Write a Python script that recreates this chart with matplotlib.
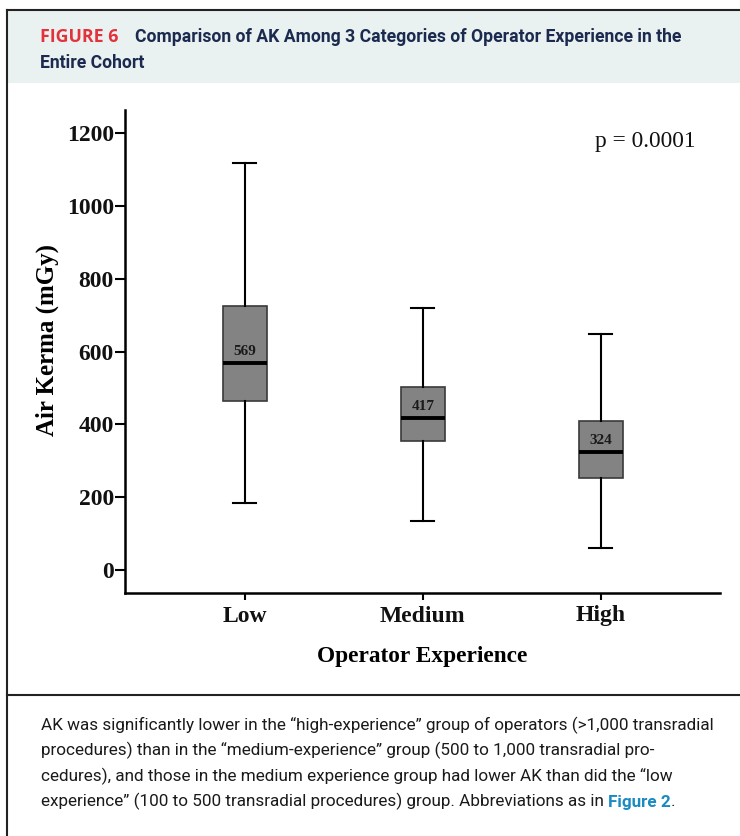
import matplotlib
matplotlib.use("Agg")
import matplotlib.pyplot as plt
from matplotlib.patches import Rectangle
from matplotlib.lines import Line2D

categories = ["Low", "Medium", "High"]
whisker_low = [184, 135, 60]
q1 = [464, 354, 253]
median = [569, 417, 324]
q3 = [725, 503, 409]
whisker_high = [1118, 720, 648]
yticks = [0, 200, 400, 600, 800, 1000, 1200]

fig = plt.figure(figsize=(7.4, 8.36), dpi=100)
W, H = 740, 836

def fx(px):
    return px / W

def fy(py):
    return 1 - py / H

# header background
fig.patches.append(Rectangle((fx(7), fy(83)), 1 - fx(7), fy(10) - fy(83),
                             transform=fig.transFigure, facecolor="#e9f1f1",
                             edgecolor="none", zorder=0))
# frame lines
fig.lines.append(Line2D([fx(7), fx(7)], [0, fy(10)], transform=fig.transFigure,
                        color="#222222", lw=1.5))
fig.lines.append(Line2D([fx(7), 1], [fy(10), fy(10)], transform=fig.transFigure,
                        color="#222222", lw=1.5))
fig.lines.append(Line2D([fx(7), 1], [fy(695), fy(695)], transform=fig.transFigure,
                        color="#222222", lw=1.5))

# header text
fig.text(fx(40), fy(42), "FIGURE 6", color="#e2333d", fontsize=12.8,
         fontweight="bold", family="Open Sans", va="baseline")
fig.text(fx(135), fy(42), "Comparison of AK Among 3 Categories of Operator Experience in the",
         color="#1b2a4e", fontsize=12.7, fontweight="bold", family="Roboto",
         va="baseline")
fig.text(fx(40), fy(68), "Entire Cohort", color="#1b2a4e", fontsize=12.7,
         fontweight="bold", family="Roboto", va="baseline")

# caption
cfs = 12.3
cap_lines = [
    "AK was significantly lower in the \u201chigh-experience\u201d group of operators (>1,000 transradial",
    "procedures) than in the \u201cmedium-experience\u201d group (500 to 1,000 transradial pro-",
    "cedures), and those in the medium experience group had lower AK than did the \u201clow",
]
for i, line in enumerate(cap_lines):
    fig.text(fx(41), fy(730 + i * 25.5), line, fontsize=cfs, family="Roboto",
             color="#1a1a1a", va="baseline")
tl = fig.text(fx(41), fy(730 + 3 * 25.5),
              "experience\u201d (100 to 500 transradial procedures) group. Abbreviations as in ",
              fontsize=cfs, family="Roboto", color="#1a1a1a", va="baseline")
fig.canvas.draw()
bb = tl.get_window_extent()
t2 = fig.text(bb.x1 / W, fy(730 + 3 * 25.5), "Figure 2", fontsize=cfs, family="Roboto",
              fontweight="bold", color="#1a8ac2", va="baseline")
fig.canvas.draw()
bb2 = t2.get_window_extent()
fig.text(bb2.x1 / W, fy(730 + 3 * 25.5), ".", fontsize=cfs, family="Roboto",
         color="#1a1a1a", va="baseline")

# chart axes
ax = fig.add_axes([fx(125), fy(593), fx(720) - fx(125), fy(110) - fy(593)])
stats = []
for i, c in enumerate(categories):
    stats.append(dict(label=c, whislo=whisker_low[i], q1=q1[i], med=median[i],
                      q3=q3[i], whishi=whisker_high[i], fliers=[]))
pos = list(range(len(categories)))
ax.bxp(stats, positions=pos, widths=0.25, patch_artist=True, showfliers=False,
       boxprops=dict(facecolor="#838383", edgecolor="#3a3a3a", linewidth=1.2),
       medianprops=dict(color="black", linewidth=2.8),
       whiskerprops=dict(color="black", linewidth=1.5),
       capprops=dict(color="black", linewidth=1.5),
       capwidths=0.13)
for i, m in enumerate(median):
    ax.annotate(str(m), (pos[i], m), xytext=(0, 3.5), textcoords="offset points",
                ha="center", va="bottom", fontsize=11, fontweight="bold",
                family="Liberation Serif", color="#1a1a1a")

ax.set_xlim(-0.674, 2.67)
ax.set_ylim(-64, 1264)
ax.set_yticks(yticks)
ax.set_yticklabels([str(v) for v in yticks])
ax.set_xticks(pos)
ax.set_xticklabels(categories)
for lab in ax.get_yticklabels() + ax.get_xticklabels():
    lab.set_family("Liberation Serif")
    lab.set_fontweight("bold")
    lab.set_fontsize(17)
    lab.set_color("#111111")
ax.tick_params(axis="y", length=7, width=1.5, pad=1)
ax.tick_params(axis="x", length=5, width=1.5, pad=4)
for s in ["top", "right"]:
    ax.spines[s].set_visible(False)
for s in ["left", "bottom"]:
    ax.spines[s].set_linewidth(1.8)
ax.set_ylabel("Air Kerma (mGy)", family="Liberation Serif", fontweight="bold",
              fontsize=18)
ax.yaxis.set_label_coords(-0.111, 0.524)
ax.set_xlabel("Operator Experience", family="Liberation Serif", fontweight="bold",
              fontsize=16.8, labelpad=14)
ax.text(2.535, 1178, "p = 0.0001", family="Liberation Serif", fontsize=16.8,
        ha="right", va="center", color="#111111")

fig.savefig("out.png", dpi=100)
